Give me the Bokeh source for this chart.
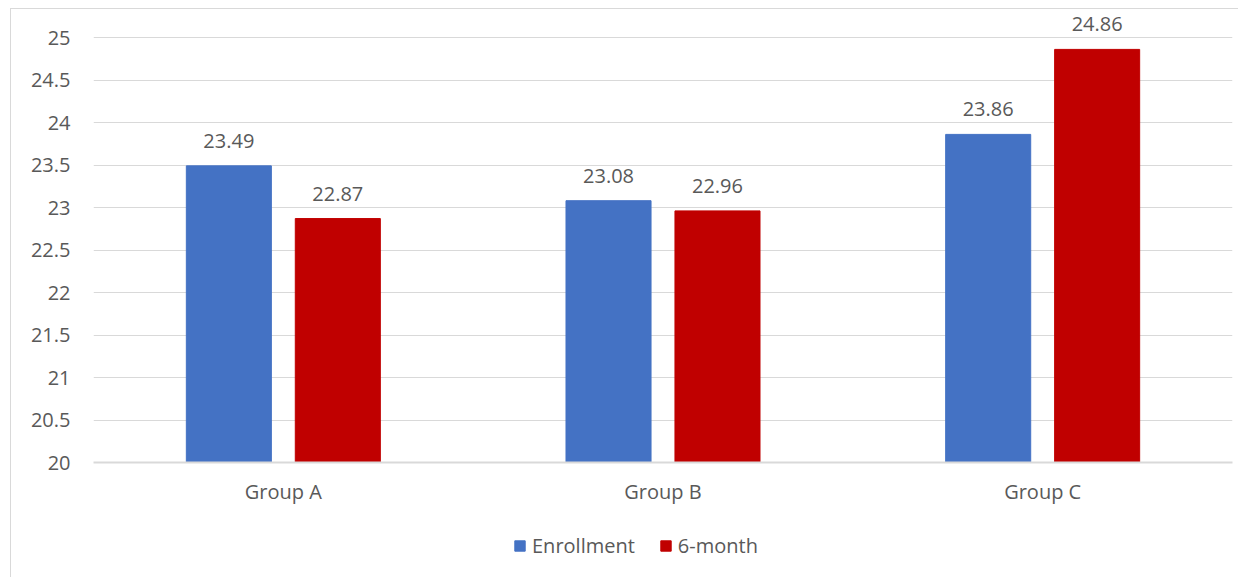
from bokeh.plotting import figure
from bokeh.layouts import column
from bokeh.models import ColumnDataSource, Range1d, FactorRange, FixedTicker, Legend, LegendItem, LabelSet
from bokeh.core.properties import value
from bokeh.transform import dodge
from bokeh.embed import file_html
from bokeh.resources import INLINE

groups = ["Group A", "Group B", "Group C"]
enrollment = [23.49, 23.08, 23.86]
six_month = [22.87, 22.96, 24.86]
series_names = ["Enrollment", "6-month"]
series_colors = ["#4472C4", "#C00000"]
y_ticks = [20, 20.5, 21, 21.5, 22, 22.5, 23, 23.5, 24, 24.5, 25]
y_tick_labels = ["20", "20.5", "21", "21.5", "22", "22.5", "23", "23.5", "24", "24.5", "25"]

FONT = "Open Sans"
FS = "20px"
TXT = "#595959"
GRID = "#d9d9d9"
W = 1227

src = ColumnDataSource(dict(
    g=groups, e=enrollment, s=six_month,
    el=[f"{v:.2f}" for v in enrollment], sl=[f"{v:.2f}" for v in six_month],
))

p = figure(x_range=FactorRange(*groups), y_range=Range1d(20, 25 + 24 / 85),
           width=W, height=508, output_backend="svg", toolbar_location=None,
           min_border_left=82, min_border_right=6, min_border_top=4, min_border_bottom=55)
p.outline_line_color = None
p.background_fill_color = "white"
p.border_fill_color = "white"

bw = 0.224
off = 0.1435
r1 = p.vbar(x=dodge("g", -off, range=p.x_range), top="e", bottom=20, width=bw, source=src,
            fill_color=series_colors[0], line_color=series_colors[0])
r2 = p.vbar(x=dodge("g", off, range=p.x_range), top="s", bottom=20, width=bw, source=src,
            fill_color=series_colors[1], line_color=series_colors[1])

for col, lab, o in (("e", "el", -off), ("s", "sl", off)):
    ls = LabelSet(x=dodge("g", o, range=p.x_range), y=col, text=lab, source=src,
                  text_align="center", text_baseline="bottom", y_offset=18,
                  text_font=value(FONT), text_font_size=FS, text_color=TXT)
    p.add_layout(ls)

p.yaxis.ticker = FixedTicker(ticks=y_ticks)
p.yaxis.major_label_overrides = {t: l for t, l in zip(y_ticks, y_tick_labels)}
p.yaxis.axis_line_color = None
p.yaxis.major_tick_line_color = None
p.yaxis.minor_tick_line_color = None
p.yaxis.major_tick_out = 0
p.yaxis.major_tick_in = 0
p.yaxis.major_label_standoff = 23
p.yaxis.major_label_text_font = FONT
p.yaxis.major_label_text_font_size = FS
p.yaxis.major_label_text_color = TXT

p.xaxis.axis_line_color = GRID
p.xaxis.axis_line_width = 2
p.xaxis.major_tick_line_color = None
p.xaxis.minor_tick_line_color = None
p.xaxis.major_tick_out = 0
p.xaxis.major_tick_in = 0
p.xaxis.major_label_standoff = 15
p.xaxis.major_label_text_font = FONT
p.xaxis.major_label_text_font_size = FS
p.xaxis.major_label_text_color = TXT

p.xgrid.grid_line_color = None
p.ygrid.grid_line_color = GRID
p.ygrid.grid_line_width = 1

# legend strip
lf = figure(width=W, height=60, output_backend="svg", toolbar_location=None,
            x_range=Range1d(0, 1), y_range=Range1d(0, 1),
            x_axis_location=None, y_axis_location=None,
            min_border_left=0, min_border_right=0, min_border_top=0, min_border_bottom=0)
lf.grid.grid_line_color = None
lf.outline_line_color = None
lf.background_fill_color = "white"
lf.border_fill_color = "white"
items = []
for name, c in zip(series_names, series_colors):
    rr = lf.vbar(x=[-10], top=[-5], bottom=[-6], width=0.1, fill_color=c, line_color=c)
    items.append(LegendItem(label=name, renderers=[rr]))
legend = Legend(items=items, orientation="horizontal", location=(420, 18),
                glyph_width=13, glyph_height=13, label_standoff=6, spacing=24,
                label_text_font=FONT, label_text_font_size=FS, label_text_color=TXT,
                border_line_color=None, background_fill_alpha=0, margin=0, padding=0)
lf.add_layout(legend)

lay = column(p, lf, spacing=0)
lay.styles = {"margin-left": "10px", "margin-top": "8px",
              "border-left": "1px solid #d9d9d9", "border-top": "1px solid #d9d9d9"}

open("out.html", "w").write(file_html(lay, INLINE))
